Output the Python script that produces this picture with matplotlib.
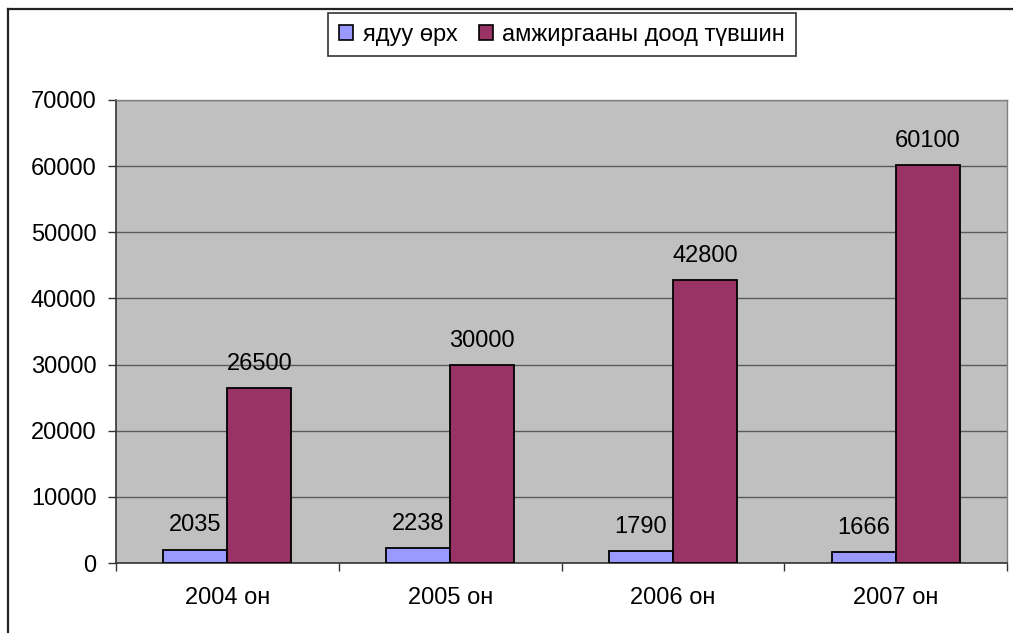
import matplotlib.pyplot as plt
from matplotlib.lines import Line2D
from matplotlib.patches import Patch
import numpy as np

plt.rcParams['font.family'] = ['Liberation Sans', 'DejaVu Sans']

#%% Data

years = ['2004 он', '2005 он', '2006 он', '2007 он']
poor = [2035, 2238, 1790, 1666]            # ядуу өрх
subsistence = [26500, 30000, 42800, 60100]  # амжиргааны доод түвшин
series_names = ['ядуу өрх', 'амжиргааны доод түвшин']
yticks = np.arange(0, 70001, 10000)

#%% Figure

W, H = 1013, 633
fig = plt.figure(figsize=(W / 100, H / 100), dpi=100)
ax = fig.add_axes([116 / W, 1 - 563 / H, (1007 - 116) / W, (563 - 100) / H])

fs = 17.0
c_poor = '#9999FF'
c_sub = '#993366'
bw = 0.287
x = np.arange(len(years))

ax.set_facecolor('#C0C0C0')
b1 = ax.bar(x - bw / 2, poor, bw, color=c_poor, edgecolor='black', linewidth=1.3, zorder=3)
b2 = ax.bar(x + bw / 2, subsistence, bw, color=c_sub, edgecolor='black', linewidth=1.3, zorder=3)

# value labels above bars
for bars, vals in ((b1, poor), (b2, subsistence)):
    for rect, v in zip(bars, vals):
        ax.annotate(str(v), (rect.get_x() + rect.get_width() / 2, v),
                    xytext=(0, 13), textcoords='offset points',
                    ha='center', va='baseline', fontsize=fs)

### Axes
ax.set_xlim(-0.5, len(years) - 0.5)
ax.set_ylim(0, 70000)
ax.set_yticks(yticks)
ax.set_yticklabels([str(v) for v in yticks], fontsize=fs)
ax.yaxis.grid(True, color='#5a5a5a', linewidth=1.0, zorder=1)
ax.set_axisbelow(True)

ax.set_xticks(np.arange(len(years) + 1) - 0.5)
ax.set_xticklabels([])
ax.set_xticks(x, minor=True)
ax.set_xticklabels(years, minor=True, fontsize=fs)
ax.tick_params(axis='x', which='major', length=5.5, width=1, color='#333333', direction='out')
ax.tick_params(axis='x', which='minor', length=0, pad=17)
ax.tick_params(axis='y', length=6, width=1, color='#333333', pad=8)

for s in ('left', 'bottom'):
    ax.spines[s].set_color('#333333')
    ax.spines[s].set_linewidth(1.2)
for s in ('top', 'right'):
    ax.spines[s].set_color('#808080')
    ax.spines[s].set_linewidth(1.0)

### Legend
handles = [Patch(facecolor=c_poor, edgecolor='black', linewidth=1.2),
           Patch(facecolor=c_sub, edgecolor='black', linewidth=1.2)]
leg = fig.legend(handles, series_names, loc='center', ncol=2,
                 bbox_to_anchor=((328 + 796) / 2 / W, 1 - 34.5 / H),
                 fontsize=fs, frameon=True, fancybox=False, shadow=False,
                 handlelength=0.6, handleheight=0.6, handletextpad=0.4,
                 columnspacing=0.9, borderpad=0.45, borderaxespad=0)
leg.get_frame().set_edgecolor('black')
leg.get_frame().set_linewidth(1.2)

### Outer chart border
fig.add_artist(Line2D([8 / W, 1.0], [1 - 9 / H, 1 - 9 / H], transform=fig.transFigure,
                      color='#222222', linewidth=1.6))
fig.add_artist(Line2D([8 / W, 8 / W], [0.0, 1 - 9 / H], transform=fig.transFigure,
                      color='#222222', linewidth=1.6))

plt.savefig('out.png', dpi=100)
